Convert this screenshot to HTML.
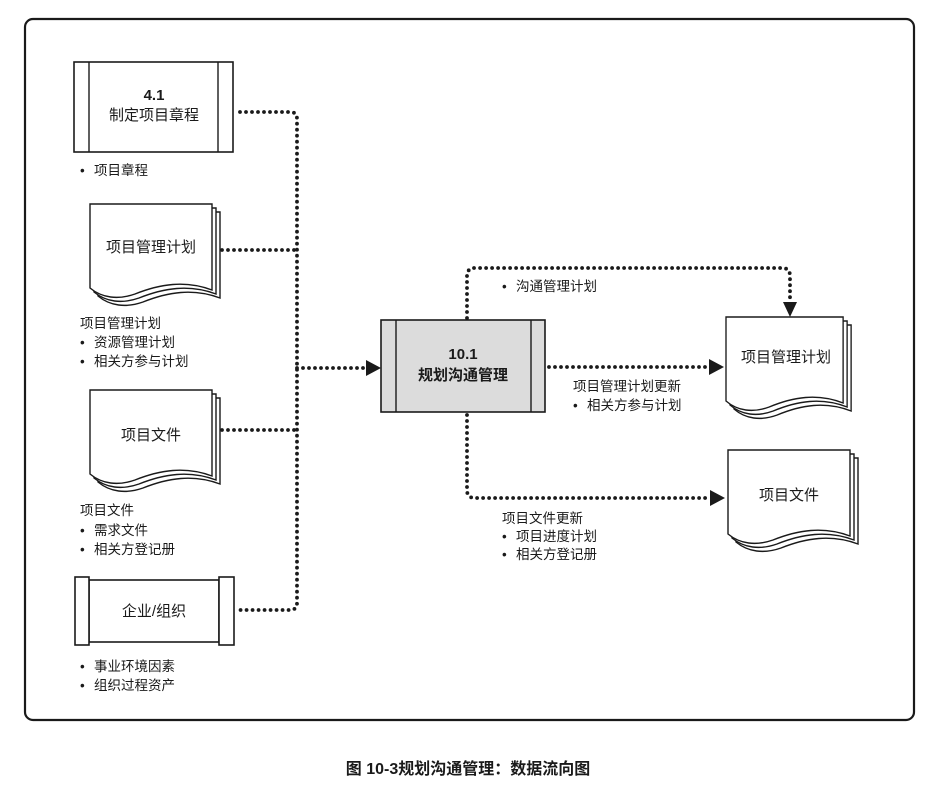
<!DOCTYPE html>
<html><head><meta charset="utf-8">
<style>
html,body{margin:0;padding:0;background:#fff;}
svg{display:block;font-family:"Liberation Sans","Noto Sans CJK SC",sans-serif;}
.t{font-size:15px;fill:#1a1a1a;}
.s{font-size:13.5px;fill:#1a1a1a;}
.b{font-weight:bold;}
.dot{fill:none;stroke:#1a1a1a;stroke-width:3.8;stroke-linecap:round;stroke-dasharray:0 6;}
.box{fill:#fff;stroke:#1a1a1a;stroke-width:1.6;}
.doc{fill:#fff;stroke:#1a1a1a;stroke-width:1.4;}
</style></head>
<body>
<svg width="934" height="786" viewBox="0 0 934 786">
<defs>
<path id="d" d="M0,0 H122 V86 C95,76 70,80 45,90 C28,96 12,94 0,84 Z"/>
</defs>
<rect x="25" y="19" width="889" height="701" rx="8" fill="#fff" stroke="#1a1a1a" stroke-width="2.2"/>

<!-- 4.1 box -->
<rect class="box" x="74" y="62" width="159" height="90"/>
<line x1="89" y1="62" x2="89" y2="152" stroke="#1a1a1a" stroke-width="1.4"/>
<line x1="218" y1="62" x2="218" y2="152" stroke="#1a1a1a" stroke-width="1.4"/>
<text class="t b" x="154" y="100" text-anchor="middle">4.1</text>
<text class="t" x="154" y="120" text-anchor="middle">制定项目章程</text>
<text class="s" x="80" y="175">•<tspan x="94">项目章程</tspan></text>

<!-- doc 项目管理计划 left -->
<g transform="translate(98,212)"><use href="#d" class="doc"/></g>
<g transform="translate(94,208)"><use href="#d" class="doc"/></g>
<g transform="translate(90,204)"><use href="#d" class="doc"/></g>
<text class="t" x="151" y="252" text-anchor="middle">项目管理计划</text>
<text class="s" x="80" y="328">项目管理计划</text>
<text class="s" x="80" y="347">•<tspan x="94">资源管理计划</tspan></text>
<text class="s" x="80" y="366">•<tspan x="94">相关方参与计划</tspan></text>

<!-- doc 项目文件 left -->
<g transform="translate(98,398)"><use href="#d" class="doc"/></g>
<g transform="translate(94,394)"><use href="#d" class="doc"/></g>
<g transform="translate(90,390)"><use href="#d" class="doc"/></g>
<text class="t" x="151" y="440" text-anchor="middle">项目文件</text>
<text class="s" x="80" y="515">项目文件</text>
<text class="s" x="80" y="535">•<tspan x="94">需求文件</tspan></text>
<text class="s" x="80" y="554">•<tspan x="94">相关方登记册</tspan></text>

<!-- 企业/组织 -->
<rect class="box" x="89" y="580" width="130" height="62"/>
<rect class="box" x="75" y="577" width="14" height="68"/>
<rect class="box" x="219" y="577" width="15" height="68"/>
<text class="t" x="154" y="616" text-anchor="middle">企业/组织</text>
<text class="s" x="80" y="671">•<tspan x="94">事业环境因素</tspan></text>
<text class="s" x="80" y="690">•<tspan x="94">组织过程资产</tspan></text>

<!-- left connectors -->
<path class="dot" d="M240,112 H290 Q297,112 297,119 V603 Q297,610 290,610 H240"/>
<path class="dot" d="M222,250 H297"/>
<path class="dot" d="M222,430 H297"/>
<path class="dot" d="M297,368 H366"/>
<polygon points="366,360 381,368 366,376" fill="#1a1a1a"/>

<!-- 10.1 box -->
<rect x="381" y="320" width="164" height="92" fill="#dcdcdc" stroke="#1a1a1a" stroke-width="1.6"/>
<line x1="396" y1="320" x2="396" y2="412" stroke="#1a1a1a" stroke-width="1.4"/>
<line x1="531" y1="320" x2="531" y2="412" stroke="#1a1a1a" stroke-width="1.4"/>
<text class="t b" x="463" y="359" text-anchor="middle">10.1</text>
<text class="t b" x="463" y="380" text-anchor="middle">规划沟通管理</text>

<!-- top path -->
<path class="dot" d="M467,318 V276 Q467,268 475,268 H782 Q790,268 790,276 V302"/>
<polygon points="783,302 797,302 790,317" fill="#1a1a1a"/>
<text class="s" x="502" y="291">•<tspan x="516">沟通管理计划</tspan></text>

<!-- middle -->
<path class="dot" d="M549,367 H710"/>
<polygon points="709,359 724,367 709,375" fill="#1a1a1a"/>
<text class="s" x="573" y="391">项目管理计划更新</text>
<text class="s" x="573" y="410">•<tspan x="587">相关方参与计划</tspan></text>

<!-- bottom -->
<path class="dot" d="M467,415 V490 Q467,498 475,498 H710"/>
<polygon points="710,490 725,498 710,506" fill="#1a1a1a"/>
<text class="s" x="502" y="523">项目文件更新</text>
<text class="s" x="502" y="541">•<tspan x="516">项目进度计划</tspan></text>
<text class="s" x="502" y="559">•<tspan x="516">相关方登记册</tspan></text>

<!-- right doc 项目管理计划 -->
<g transform="translate(734,325) scale(0.96,1)"><use href="#d" class="doc"/></g>
<g transform="translate(730,321) scale(0.96,1)"><use href="#d" class="doc"/></g>
<g transform="translate(726,317) scale(0.96,1)"><use href="#d" class="doc"/></g>
<text class="t" x="786" y="362" text-anchor="middle">项目管理计划</text>

<!-- right doc 项目文件 -->
<g transform="translate(736,458)"><use href="#d" class="doc"/></g>
<g transform="translate(732,454)"><use href="#d" class="doc"/></g>
<g transform="translate(728,450)"><use href="#d" class="doc"/></g>
<text class="t" x="789" y="500" text-anchor="middle">项目文件</text>

<!-- caption -->
<text x="468" y="774" text-anchor="middle" font-size="16" font-weight="bold" fill="#1a1a1a">图 10-3规划沟通管理：数据流向图</text>
</svg>
</body></html>
